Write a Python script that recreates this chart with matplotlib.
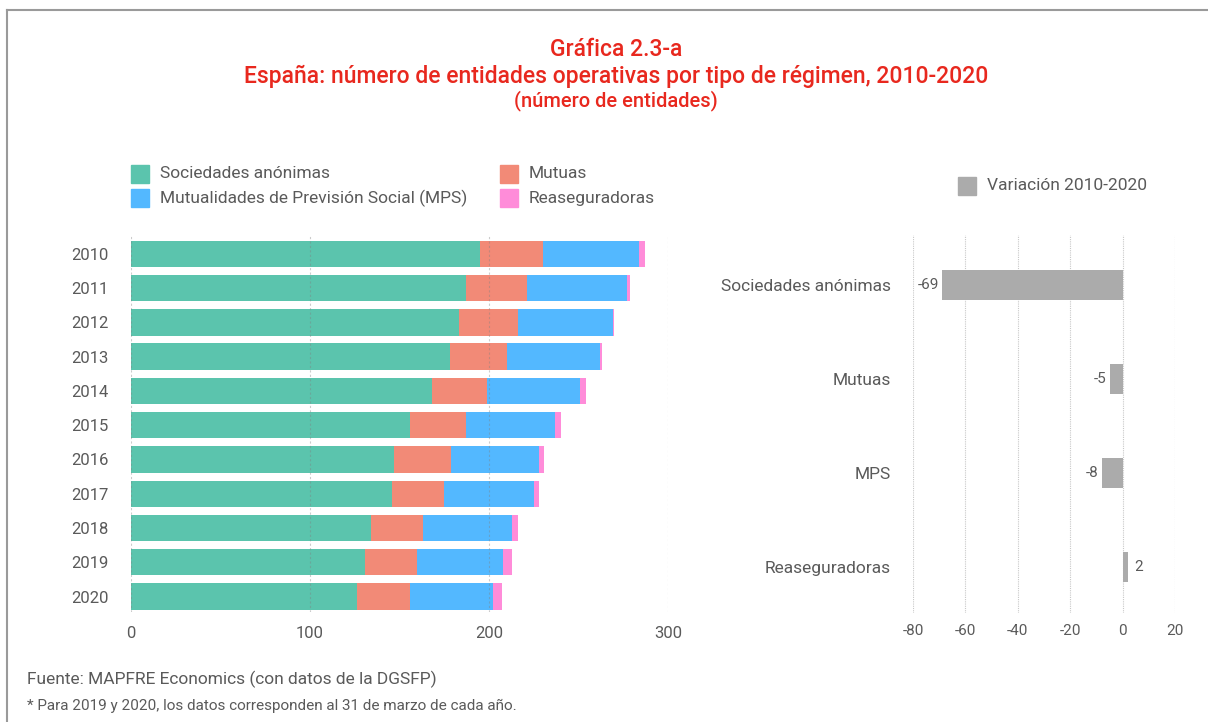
import numpy as np
import matplotlib
matplotlib.use("Agg")
import matplotlib.pyplot as plt
from matplotlib.patches import Rectangle

# Datos
years = ["2010", "2011", "2012", "2013", "2014", "2015", "2016", "2017", "2018", "2019", "2020"]
sociedades = [195, 187, 183, 178, 168, 156, 147, 146, 134, 131, 126]
mutuas = [35, 34, 33, 32, 31, 31, 32, 29, 29, 29, 30]
mps = [54, 56, 53, 52, 52, 50, 49, 50, 50, 48, 46]
reaseg = [3, 2, 1, 1, 3, 3, 3, 3, 3, 5, 5]

var_cats = ["Sociedades anónimas", "Mutuas", "MPS", "Reaseguradoras"]
var_vals = [-69, -5, -8, 2]

series_names = ["Sociedades anónimas", "Mutuas", "Mutualidades de Previsión Social (MPS)", "Reaseguradoras"]
colors = ["#5bc4ad", "#f28a77", "#53b8ff", "#ff8cd9"]
grey = "#ababab"
txt = "#5a5a5a"
red = "#e8281e"

plt.rcParams['font.family'] = ['Roboto', 'DejaVu Sans']
plt.rcParams['axes.unicode_minus'] = False

W, H = 1208, 722
fig = plt.figure(figsize=(W / 100, H / 100), dpi=100)

def px_axes(x0, y0, x1, y1):
    # caja en pixeles (origen arriba a la izquierda)
    return fig.add_axes([x0 / W, 1 - y1 / H, (x1 - x0) / W, (y1 - y0) / H])

#_/ Marco
fig.add_artist(plt.Line2D([7 / W, 1], [1 - 10 / H, 1 - 10 / H], color="#9a9a9a", lw=1.5))
fig.add_artist(plt.Line2D([7 / W, 7 / W], [0, 1 - 10 / H], color="#9a9a9a", lw=1.5))

#_/ Titulos
fig.text(616 / W, 1 - 50 / H, "Gráfica 2.3-a", color=red, fontsize=16.5, fontweight="medium", ha="center", va="center")
fig.text(616 / W, 1 - 76 / H, "España: número de entidades operativas por tipo de régimen, 2010-2020",
         color=red, fontsize=16.5, fontweight="medium", ha="center", va="center")
fig.text(616 / W, 1 - 101 / H, "(número de entidades)", color=red, fontsize=14.5, fontweight="medium",
         ha="center", va="center")

#  ________ Grafico izquierdo ________
ax = px_axes(131, 235, 668, 612)
y = np.arange(len(years))
left = np.zeros(len(years))
for vals, c in zip([sociedades, mutuas, mps, reaseg], colors):
    ax.barh(y, vals, left=left, height=0.77, color=c, edgecolor="none")
    left = left + np.array(vals)

ax.set_xlim(0, 300)
ax.set_ylim(10.45, -0.55)
ax.set_xticks([0, 100, 200, 300])
ax.set_yticks(y)
ax.set_yticklabels(years)
ax.tick_params(axis="both", length=0, colors=txt, labelsize=12)
ax.tick_params(axis="y", pad=16)
ax.tick_params(axis="x", pad=10)
for s in ax.spines.values():
    s.set_visible(False)
ax.grid(axis="x", color="#808080", alpha=0.4, linestyle=(0, (2, 2)), linewidth=0.8)
ax.set_axisbelow(False)
for g in ax.get_xgridlines():
    g.set_zorder(3)

#_/ Leyenda izquierda
leg_items = [(131, 174, 0), (131, 198, 2), (500, 174, 1), (500, 198, 3)]
for x0, yc, i in leg_items:
    fig.add_artist(Rectangle((x0 / W, 1 - (yc + 9) / H), 18 / W, 18 / H, color=colors[i],
                             transform=fig.transFigure))
    fig.text((x0 + 29) / W, 1 - yc / H, series_names[i], color=txt, fontsize=12.5, va="center")

#  ________ Grafico derecho ________
ax2 = px_axes(913, 235, 1175, 613)
yv = np.arange(len(var_cats))
ax2.barh(yv, var_vals, height=0.32, color=grey, edgecolor="none")
ax2.set_xlim(-80, 20)
ax2.set_ylim(3.49, -0.53)
ax2.set_xticks([-80, -60, -40, -20, 0, 20])
ax2.set_yticks(yv)
ax2.set_yticklabels(var_cats)
ax2.tick_params(axis="both", length=0, colors=txt)
ax2.tick_params(axis="y", pad=16, labelsize=12.5)
ax2.tick_params(axis="x", pad=8, labelsize=11)
for s in ax2.spines.values():
    s.set_visible(False)
ax2.grid(axis="x", color="#c8c8c8", linestyle=(0, (1, 1)), linewidth=0.8)
ax2.set_axisbelow(True)
for yi, v in zip(yv, var_vals):
    if v < 0:
        ax2.text(v - 1.2, yi, f"{v}", ha="right", va="center", color=txt, fontsize=11)
    else:
        ax2.text(v + 2.5, yi, f"{v}", ha="left", va="center", color=txt, fontsize=11)

#_/ Leyenda derecha
fig.add_artist(Rectangle((958 / W, 1 - 195 / H), 18 / W, 18 / H, color=grey, transform=fig.transFigure))
fig.text(987 / W, 1 - 186 / H, "Variación 2010-2020", color=txt, fontsize=12.5, va="center")

#_/ Notas
fig.text(27 / W, 1 - 679 / H, "Fuente: MAPFRE Economics (con datos de la DGSFP)", color=txt, fontsize=12.5, va="center")
fig.text(27 / W, 1 - 706 / H, "* Para 2019 y 2020, los datos corresponden al 31 de marzo de cada año.",
         color=txt, fontsize=11, va="center")

fig.savefig("out.png", dpi=100)
